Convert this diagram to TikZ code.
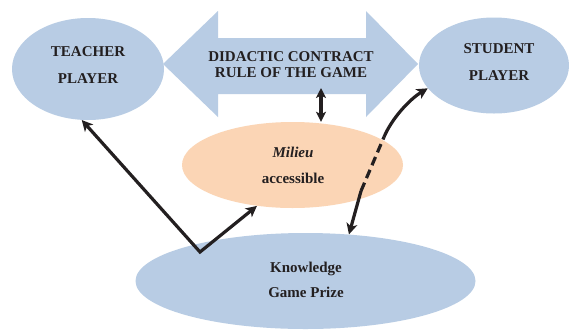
\documentclass[tikz,border=0pt]{standalone}
\usepackage{fontspec}
\setmainfont{Liberation Serif}
\usetikzlibrary{arrows.meta,shapes.geometric}
\definecolor{ellblue}{RGB}{184,204,228}
\definecolor{peach}{RGB}{251,213,181}
\definecolor{ink}{RGB}{35,31,32}
\begin{document}
\begin{tikzpicture}[x=1pt,y=-1pt,
  ell/.style={ellipse, fill=ellblue, inner sep=0pt, draw=none},
  lbl/.style={font=\bfseries\fontsize{15}{#1}\selectfont, text=ink, align=center, inner sep=0pt},
  lbl/.default=27,
  >={Stealth[length=11pt,width=11pt,inset=3pt]},
  conn/.style={draw=ink, line width=3.2pt}]
\useasboundingbox (0,0) rectangle (569,330);
\fill[white] (0,0) rectangle (569,330);
% ellipses
\node[ell, minimum width=152pt, minimum height=102pt] (teacher) at (88,69) {};
\node[ell, minimum width=150pt, minimum height=96pt] (student) at (494,65.5) {};
\node[ell, fill=peach, minimum width=221pt, minimum height=86pt] (milieu) at (292.5,165) {};
\node[ell, minimum width=340pt, minimum height=96pt] (know) at (305.5,281) {};
% contract double arrow
\fill[ellblue] (163,64) -- (218,11) -- (218,38) -- (366,38) -- (366,11) -- (418,64)
  -- (366,117) -- (366,94) -- (218,94) -- (218,117) -- cycle;
% labels
\node[lbl] (teacherT) at (88,65.5) {TEACHER\\PLAYER};
\node[lbl] (studentT) at (499,62.5) {STUDENT\\PLAYER};
\node[lbl=16] (contract) at (291,65) {DIDACTIC CONTRACT\\RULE OF THE GAME};
\node[lbl=26] (milieuT) at (293,165) {\textit{Milieu}\\accessible};
\node[lbl=25] (knowT) at (306,279.5) {Knowledge\\Game Prize};
% connectors
\coordinate (ctop) at (321,88);
\coordinate (v) at (200,252);
\coordinate (c1) at (361,191);
\coordinate (c2) at (384,137);
\draw[conn, {Stealth[length=10pt,width=10pt,inset=2.5pt]}-{Stealth[length=10pt,width=10pt,inset=2.5pt]}] (ctop) -- (ctop |- milieu.north);
\draw[conn, <->, line join=miter] (teacher.263) -- (v) -- (milieu.229);
\draw[conn, ->] (c1) -- (know.47);
\draw[conn, dash pattern=on 9pt off 5pt] (c1) -- (c2);
\draw[conn, ->] (c2) .. controls (392,118) and (410,99) .. (student.199);
\end{tikzpicture}
\end{document}
